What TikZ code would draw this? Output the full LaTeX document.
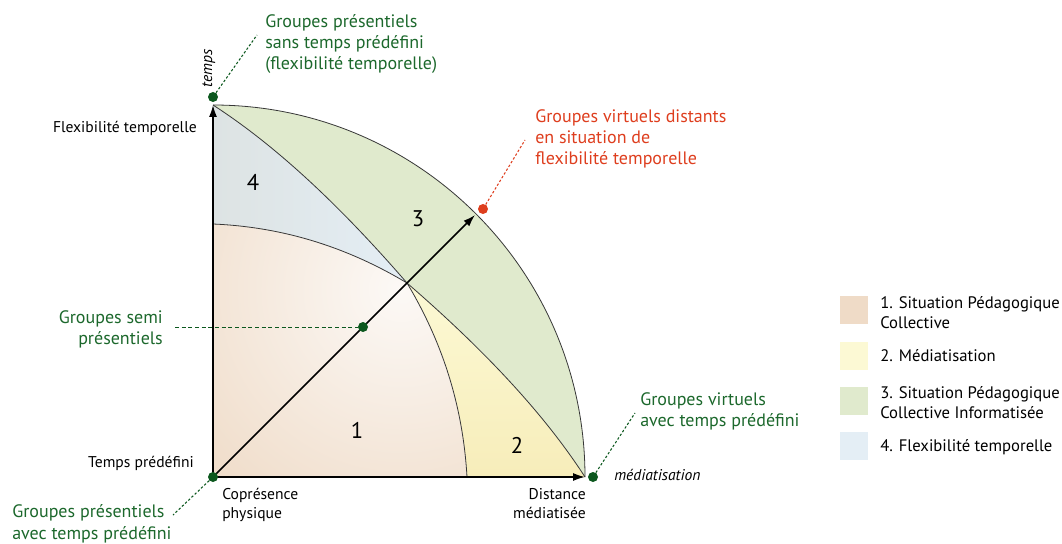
\documentclass[tikz,border=0pt]{standalone}
\usepackage{fontspec}
\setmainfont{PT Sans}
\usetikzlibrary{arrows.meta}
\definecolor{zoneun}{RGB}{239,219,199}
\definecolor{zoneunclair}{RGB}{252,249,246}
\definecolor{zonedeux}{RGB}{252,249,212}
\definecolor{zonedeuxfonce}{RGB}{247,237,186}
\definecolor{zonetrois}{RGB}{224,234,205}
\definecolor{zonequatre}{RGB}{228,238,245}
\definecolor{zonequatregris}{RGB}{221,227,227}
\definecolor{vertlabel}{RGB}{28,104,44}
\definecolor{vertpoint}{RGB}{12,88,30}
\definecolor{rougelabel}{RGB}{222,62,30}
\definecolor{trait}{RGB}{55,55,55}
\begin{document}
\begin{tikzpicture}[x=0.75pt,y=0.75pt]
                    \tikzstyle{every node}+=[inner sep=0pt]
                    \tikzstyle{frontiere}=[trait, line width=0.6pt]
                    \tikzstyle{axe}=[black, line width=1.2pt, -{Latex[length=9pt,width=6pt]}]
                    \tikzstyle{point}=[circle, fill=vertpoint, minimum size=7.5pt]
                    \tikzstyle{renvoi}=[vertpoint, line width=0.8pt, dash pattern=on 1.8pt off 1.5pt]
                    \tikzstyle{etiquette}=[vertlabel, font=\fontsize{13.5}{16.1}\selectfont]
                    \tikzstyle{libelle}=[black, font=\fontsize{11.7}{13.9}\selectfont]
                    \tikzstyle{chiffre}=[black, font=\fontsize{17}{20}\selectfont]
                    \tikzstyle{carre}=[minimum width=21pt, minimum height=20.5pt]
                    \tikzstyle{legende}=[black, font=\fontsize{12.5}{15}\selectfont, align=left, anchor=west]
                    \useasboundingbox (-213,-66) rectangle (849,477);
                    \coordinate (O) at (0,0);
                    \coordinate (T) at (0,372);
                    \coordinate (R) at (372,0);
                    \coordinate (L) at (0,253);
                    \coordinate (M) at (254,0);
                    \coordinate (X) at (194,194);
                    \coordinate (D) at (262,262);
                    \fill [zonetrois] (T) arc [start angle=90, end angle=0, radius=372] .. controls (330,65) and (269,129) .. (X) .. controls (129,269) and (65,330) .. (T) -- cycle;
                    \shade [top color=zonedeux, bottom color=zonedeuxfonce] (M) -- (R) .. controls (330,65) and (269,129) .. (X) .. controls (230,134) and (250,70) .. (M) -- cycle;
                    \shade [left color=zonequatregris, right color=zonequatre] (L) -- (T) .. controls (65,330) and (129,269) .. (X) .. controls (134,230) and (70,250) .. (L) -- cycle;
                    \begin{scope}
                    \clip (O) -- (M) .. controls (250,70) and (230,134) .. (X) .. controls (134,230) and (70,250) .. (L) -- cycle;
                    \shade [inner color=zoneunclair, outer color=zoneun] (188,188) circle (280);
                    \end{scope}
                    \draw [frontiere] (T) arc [start angle=90, end angle=0, radius=372];
                    \draw [frontiere] (T) .. controls (65,330) and (129,269) .. (X);
                    \draw [frontiere] (X) .. controls (269,129) and (330,65) .. (R);
                    \draw [frontiere] (L) .. controls (70,250) and (134,230) .. (X);
                    \draw [frontiere] (X) .. controls (230,134) and (250,70) .. (M);
                    \draw [axe] (O) -- (T);
                    \draw [axe] (O) -- (R);
                    \draw [axe] (O) -- (D);
                    \node [chiffre] (n1) at (144,47) {1};
                    \node [chiffre] (n2) at (304,32) {2};
                    \node [chiffre] (n3) at (205,258) {3};
                    \node [chiffre] (n4) at (40,295) {4};
                    \node [point] (ptemps) at (0,380) {};
                    \node [point] (pmedia) at (380,0) {};
                    \node [point] (porigine) at (O) {};
                    \node [point] (psemi) at (150,150) {};
                    \node [point, fill=rougelabel] (pvirtuel) at (270,268) {};
                    \coordinate (ctemps) at (44,442);
                    \coordinate (cmedia) at (422,64);
                    \coordinate (corigine) at (-40,-38);
                    \coordinate (csemi) at (-38,150);
                    \coordinate (cvirtuel) at (312,337);
                    \draw [renvoi] (ptemps) -- (ctemps);
                    \draw [renvoi] (pmedia) -- (cmedia);
                    \draw [renvoi] (porigine) -- (corigine);
                    \draw [renvoi, rougelabel] (pvirtuel) -- (cvirtuel);
                    \draw [renvoi, line width=0.7pt, dash pattern=on 3pt off 2pt] (csemi) -- (psemi);
                    \node [etiquette, align=left, anchor=base west] (lsans) at (52,407) {Groupes présentiels\\sans temps prédéfini\\(flexibilité temporelle)};
                    \node [etiquette, rougelabel, align=left, anchor=base west] (lvirtuel) at (322,312) {Groupes virtuels distants\\en situation de\\flexibilité temporelle};
                    \node [etiquette, align=right, anchor=base east] (lsemi) at (-50,132.5) {Groupes semi\\présentiels};
                    \node [etiquette, align=left, anchor=base west] (lmedia) at (427,50.5) {Groupes virtuels\\avec temps prédéfini};
                    \node [etiquette, align=left, anchor=base west] (lavec) at (-201,-62) {Groupes présentiels\\avec temps prédéfini};
                    \node [libelle, anchor=base east] (lflex) at (-16,344) {Flexibilité temporelle};
                    \node [libelle, anchor=base east] (lpredef) at (-19,10) {Temps prédéfini};
                    \node [libelle, align=left, anchor=base west] (lcopres) at (9,-41) {Coprésence\\physique};
                    \node [libelle, align=right, anchor=base east] (ldist) at (373,-41) {Distance\\médiatisée};
                    \node [libelle, font=\fontsize{11.7}{13.9}\selectfont\itshape, anchor=base west] (laxemedia) at (401,-3) {médiatisation};
                    \node [libelle, font=\fontsize{11.7}{13.9}\selectfont\itshape, rotate=90, anchor=base west] (laxetemps) at (-1,389) {temps};
                    \node [carre, fill=zoneun] (c1) at (641,167) {};
                    \node [carre, fill=zonedeux] (c2) at (641,121) {};
                    \node [carre, fill=zonetrois] (c3) at (641,76) {};
                    \node [carre, fill=zonequatre] (c4) at (641,31) {};
                    \node [legende] (t1) at (667,164) {1. Situation Pédagogique\\Collective};
                    \node [legende] (t2) at (667,121) {2. Médiatisation};
                    \node [legende] (t3) at (667,74) {3. Situation Pédagogique\\Collective Informatisée};
                    \node [legende] (t4) at (667,30) {4. Flexibilité temporelle};
                \end{tikzpicture}
\end{document}
